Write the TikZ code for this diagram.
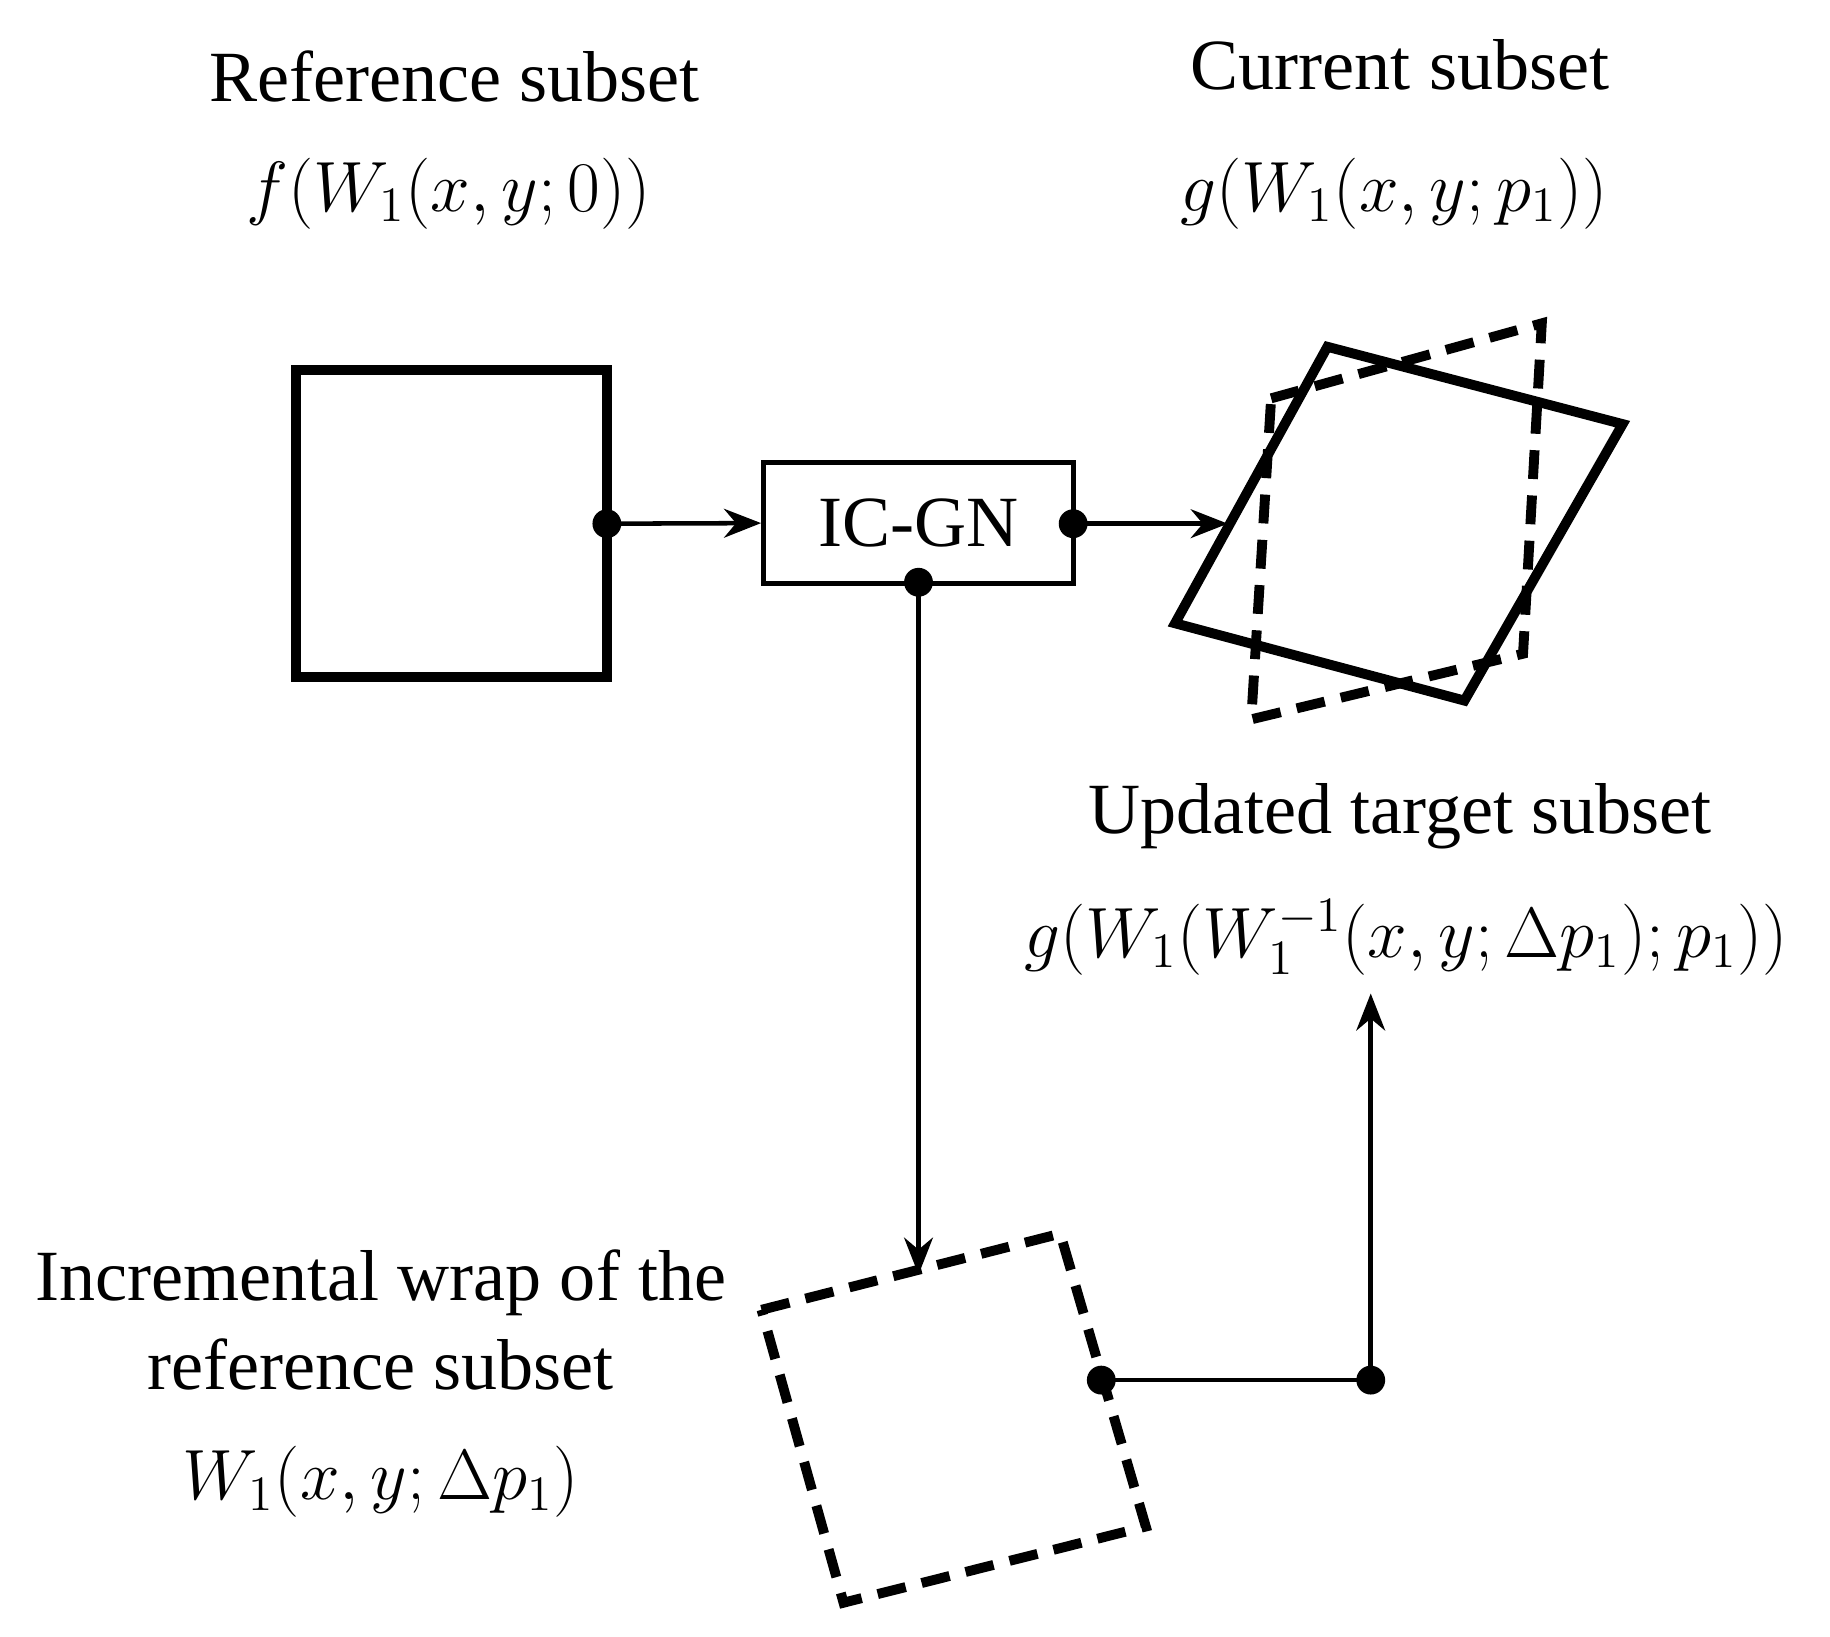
\documentclass[tikz,border=0pt]{standalone}
\usepackage{fontspec}
\setmainfont{Liberation Serif}
\usetikzlibrary{arrows.meta}
\begin{document}
\begin{tikzpicture}[x=0.01cm,y=-0.01cm,
  lbl/.style={font=\fontsize{17.5}{21}\selectfont},
  subset/.style={line width=2.4pt},
  dsubset/.style={line width=2.4pt,dash pattern=on 7pt off 4pt},
  conn/.style={line width=1.1pt,-{Stealth[length=9pt,width=7pt]}},
  dot/.style={circle,fill=black,inner sep=0pt,minimum size=7pt}]
\useasboundingbox (0,0) rectangle (1562,1397);
% labels
\node[lbl] (reft) at (388,65) {Reference subset};
\node[lbl] (refm) at (383,165) {$f\bigl(W_1(x,y;0)\bigr)$};
\node[lbl] (curt) at (1195,55) {Current subset};
\node[lbl] (curm) at (1190,165) {$g\bigl(W_1(x,y;p_1)\bigr)$};
\node[lbl] (updt) at (1195,697) {Updated target subset};
\node[lbl] (updm) at (1200,800) {$g\bigl(W_1(W_1^{-1}(x,y;\Delta p_1);p_1)\bigr)$};
\node[lbl] (inct) at (325,1095) {Incremental wrap of the};
\node[lbl] (incr) at (325,1165) {reference subset};
\node[lbl] (incm) at (325,1265) {$W_1(x,y;\Delta p_1)$};
% shapes
\draw[subset] (253,316) rectangle (518,578);
\node[draw,line width=1.3pt,minimum width=2.64cm,minimum height=1.03cm,lbl] (icgn) at (784,446.5) {IC-GN};
\draw[subset] (1133,296) -- (1385,362) -- (1250,598) -- (1003,532) -- cycle;
\draw[dsubset] (1085,340) -- (1316,276) -- (1300,558) -- (1068,614) -- cycle;
\draw[dsubset] (650,1118) -- (905,1053) -- (978,1303) -- (720,1368) -- cycle;
% connectors
\node[dot] (d1) at (518,447) {};
\node[dot] (d2) at (916,447) {};
\node[dot] (d3) at (784,497) {};
\node[dot] (d4) at (940,1178) {};
\node[dot] (d5) at (1170,1178) {};
\coordinate (t1) at (1048,447);
\coordinate (t2) at (784,1088);
\coordinate (t3) at (1170,848);
\draw[conn] (d1.center) -- (icgn.west);
\draw[conn] (d2.center) -- (t1);
\draw[conn] (d3.center) -- (t2);
\draw[line width=1.1pt] (d4.center) -- (d5.center);
\draw[conn] (d5.center) -- (t3);
\end{tikzpicture}
\end{document}
